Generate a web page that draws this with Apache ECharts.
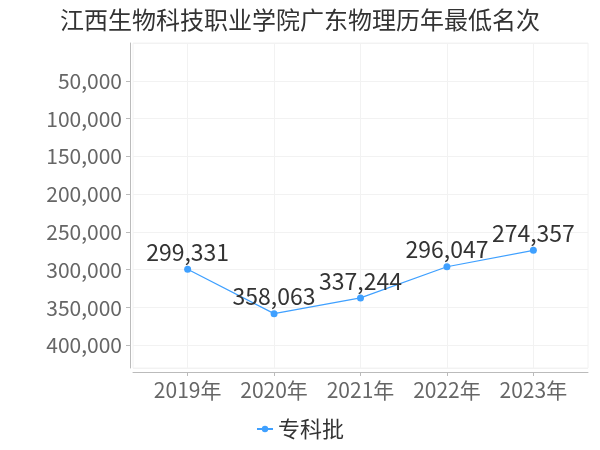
<!DOCTYPE html>
<html>
<head>
<meta charset="utf-8">
<script src="https://cdn.jsdelivr.net/npm/echarts@6/dist/echarts.min.js"></script>
<style>html,body{margin:0;padding:0;background:#fff}#c{width:600px;height:450px}</style>
</head>
<body>
<div id="c"></div>
<script>
var years = ['2019年', '2020年', '2021年', '2022年', '2023年'];
var ranks = [299331, 358063, 337244, 296047, 274357];
var seriesName = '专科批';
var titleText = '江西生物科技职业学院广东物理历年最低名次';

var FONT = '"Noto Sans CJK SC", "Noto Sans", sans-serif';
var chart = echarts.init(document.getElementById('c'), null, {renderer: 'canvas'});
var idx = years.map(function (_, i) { return i; });
chart.setOption({
  animation: false,
  backgroundColor: '#fff',
  textStyle: {fontFamily: FONT},
  title: {
    text: titleText, left: 'center', top: 3,
    textStyle: {fontSize: 24, fontWeight: 'normal', color: '#333', fontFamily: FONT}
  },
  legend: {
    bottom: 5, left: 'center', itemWidth: 16, itemHeight: 8, itemGap: 4,
    textStyle: {fontSize: 22, color: '#333', fontFamily: FONT},
    data: [seriesName]
  },
  grid: {left: 133, right: 12, top: 43, bottom: 82, show: true, borderColor: '#f2f2f2', borderWidth: 1},
  xAxis: {
    type: 'value', min: -0.632, max: 4.632, offset: 4,
    axisLine: {show: true, onZero: false, lineStyle: {color: '#bbb'}},
    axisTick: {show: true, customValues: idx, length: 4, lineStyle: {color: '#bbb'}},
    axisLabel: {customValues: idx, fontSize: 21, color: '#666', margin: 8, fontFamily: FONT,
      formatter: function (v) { return years[Math.round(v)] || ''; }},
    splitLine: {show: true, lineStyle: {color: '#f2f2f2'}}
  },
  yAxis: {
    type: 'value', inverse: true, min: 0, max: 430000, interval: 50000, offset: 3,
    axisLine: {show: true, onZero: false, lineStyle: {color: '#bbb'}},
    axisTick: {show: true, length: 4, lineStyle: {color: '#bbb'}},
    axisLabel: {fontSize: 21, color: '#666', margin: 8, showMinLabel: false, showMaxLabel: false, fontFamily: FONT,
      formatter: function (v) { return v === 0 ? '' : v.toLocaleString('en-US'); }},
    splitLine: {show: true, lineStyle: {color: '#f2f2f2'}}
  },
  series: [{
    name: seriesName, type: 'line',
    data: ranks.map(function (v, i) { return [i, v]; }),
    symbol: 'circle', symbolSize: 7,
    itemStyle: {color: '#3fa0ff'},
    lineStyle: {color: '#3fa0ff', width: 1.2},
    label: {show: true, position: 'top', distance: 2, fontSize: 23, color: '#333', fontFamily: FONT,
      formatter: function (p) { return p.value[1].toLocaleString('en-US'); }}
  }]
});
</script>
</body>
</html>
